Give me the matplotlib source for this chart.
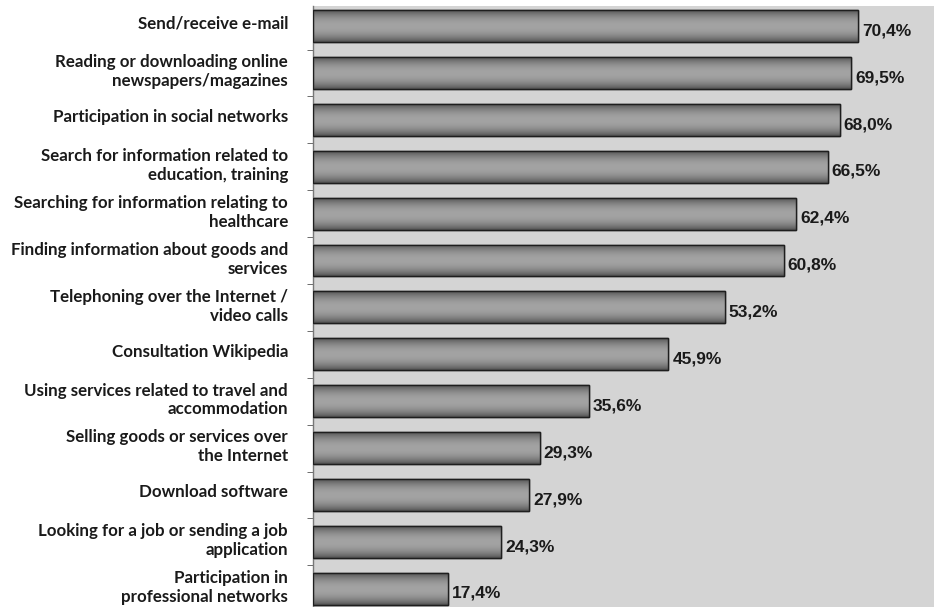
import matplotlib.pyplot as plt
import matplotlib.transforms as mtransforms
import numpy as np

# Internet activities and share of users (%)
activities = [
    "Send/receive e-mail",
    "Reading or downloading online\nnewspapers/magazines",
    "Participation in social networks",
    "Search for information related to\neducation, training",
    "Searching for information relating to\nhealthcare",
    "Finding information about goods and\nservices",
    "Telephoning over the Internet /\nvideo calls",
    "Consultation Wikipedia",
    "Using services related to travel and\naccommodation",
    "Selling goods or services over\nthe Internet",
    "Download software",
    "Looking for a job or sending a job\napplication",
    "Participation in\nprofessional networks",
]
shares = [70.4, 69.5, 68.0, 66.5, 62.4, 60.8, 53.2, 45.9, 35.6, 29.3, 27.9, 24.3, 17.4]
value_labels = ["70,4%", "69,5%", "68,0%", "66,5%", "62,4%", "60,8%", "53,2%",
                "45,9%", "35,6%", "29,3%", "27,9%", "24,3%", "17,4%"]

fig = plt.figure(figsize=(9.34, 6.07), dpi=100)
ax = fig.add_axes([313 / 934, 0.0, 1 - 313 / 934, 1 - 6 / 607])
ax.set_facecolor("#d4d4d4")

pos = np.arange(len(activities))
bars = ax.barh(pos, shares, height=0.68, color="#8c8c8c",
               edgecolor="#1e1e1e", linewidth=1.0, zorder=2)

# cylinder-like shading: dark at the edges, light in the middle
t = np.linspace(0, 1, 64)
shade = 0.30 + 0.34 * np.sin(np.pi * t) ** 0.7
grad = shade[:, None] * np.ones((1, 2))
for b in bars:
    x0, y0 = b.get_x(), b.get_y()
    im = ax.imshow(grad, cmap="gray", vmin=0, vmax=1, aspect="auto",
                   extent=(x0, x0 + b.get_width(), y0, y0 + b.get_height()),
                   interpolation="bicubic", zorder=2.5)
    im.set_clip_path(b)
    ax.add_patch(plt.Rectangle((x0, y0), b.get_width(), b.get_height(),
                               fill=False, edgecolor="#1e1e1e", linewidth=1.0, zorder=3))

for b, lab in zip(bars, value_labels):
    ax.text(b.get_width() + 0.5, b.get_y() + b.get_height() / 2 + 0.1, lab,
            va="center", ha="left", fontsize=12.5, fontweight="bold",
            family="Liberation Sans", color="#1a1a1a", zorder=4)

ax.set_xlim(0, 80.2)
ax.set_ylim(12.39, -0.43)

ax.set_yticks(pos)
ax.set_yticklabels(activities, fontsize=12.2, fontweight="bold", family="Lato",
                   color="#1a1a1a", linespacing=1.22)
ax.set_yticks(np.arange(len(activities) - 1) + 0.5, minor=True)
ax.tick_params(axis="y", which="major", length=0, pad=18)
ax.tick_params(axis="y", which="minor", length=4, direction="out", color="#555555")
ax.set_xticks([])

# nudge the category labels slightly upward
shift = mtransforms.ScaledTranslation(0, 3 / 72, fig.dpi_scale_trans)
for lbl in ax.get_yticklabels():
    lbl.set_transform(lbl.get_transform() + shift)

for side in ["top", "right", "bottom"]:
    ax.spines[side].set_visible(False)
ax.spines["left"].set_color("#777777")
ax.spines["left"].set_linewidth(1.0)

fig.savefig("out.png", dpi=100)
